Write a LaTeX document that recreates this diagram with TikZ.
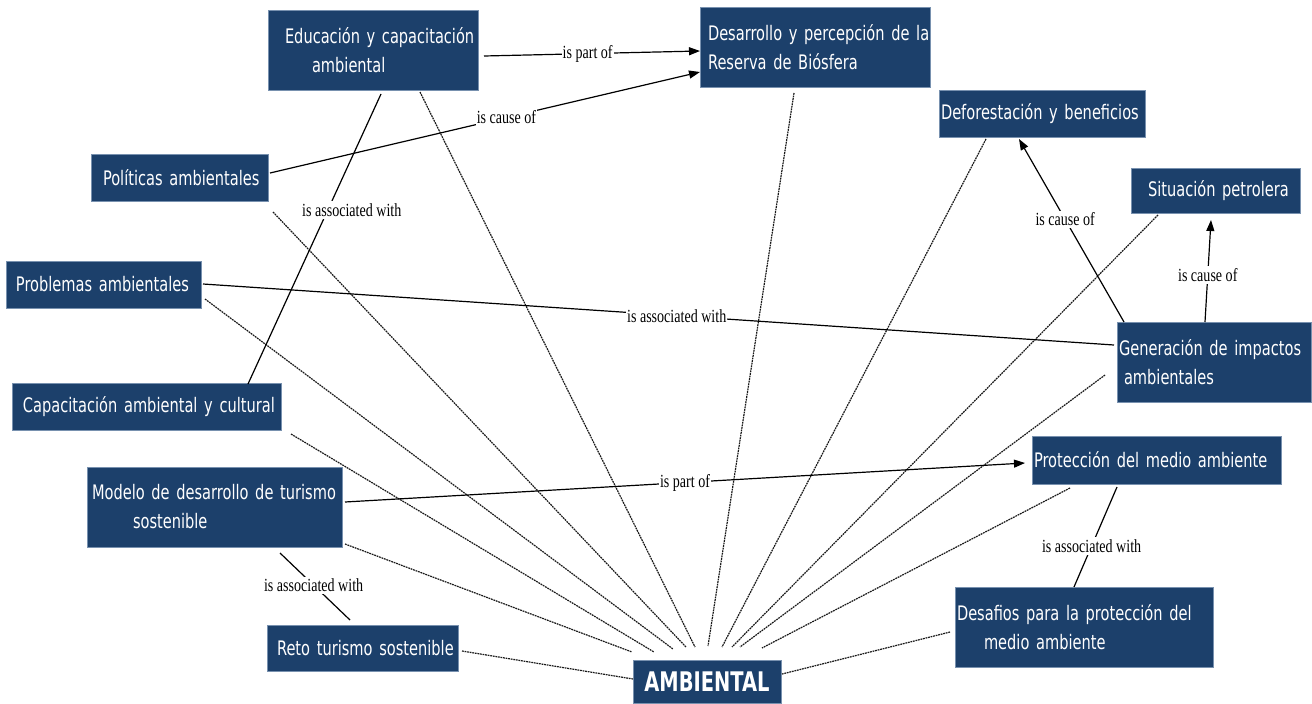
\documentclass[tikz,border=0pt]{standalone}
\usepackage{fontspec}
\usetikzlibrary{arrows.meta}
\newfontfamily\boxfont{DejaVu Sans}[FakeStretch=0.73]
\newfontfamily\ambfont{DejaVu Sans}[FakeStretch=0.72]
\newfontfamily\labfont{Liberation Serif}[FakeStretch=0.76]
\definecolor{boxc}{RGB}{28,64,107}
\definecolor{boxe}{RGB}{120,145,175}
\tikzset{
  box/.style={fill=boxc, draw=boxe, line width=0.5pt, text=white, anchor=north west,
    inner ysep=0pt, outer sep=0pt, align=left,
    font=\boxfont\fontsize{20}{29}\selectfont},
  bx/.style n args={4}{minimum width=#1, minimum height=#2, inner xsep=#3, text width=#4},
  lab/.style={fill=white, inner xsep=1pt, inner ysep=2pt, text=black,
    font=\labfont\fontsize{18.5}{20}\selectfont},
  sl/.style={line width=1.2pt, black},
  arr/.style={sl, -{Triangle[length=11pt,width=8pt]}},
  dl/.style={line width=1.2pt, black!90, dash pattern=on 1.8pt off 0.8pt}
}
\begin{document}
\begin{tikzpicture}[x=1pt,y=-1pt]
\useasboundingbox (0,0) rectangle (1312,704);
% boxes
\node[box, bx={210pt}{80pt}{17pt}{176pt}] (edu) at (268,10)
  {\mbox{Educación y capacitación}\\\hspace*{27pt}ambiental};
\node[box, bx={230pt}{80pt}{8pt}{214pt}] (des) at (700,7)
  {\mbox{Desarrollo y percepción de la}\\Reserva de Biósfera};
\node[box, bx={206pt}{47pt}{2pt}{202pt}] (def) at (939,90)
  {\mbox{Deforestación y beneficios}};
\node[box, bx={177pt}{47pt}{12pt}{153pt}] (pol) at (91,154)
  {\mbox{Políticas ambientales}};
\node[box, bx={169pt}{45pt}{17pt}{135pt}] (sit) at (1131,168)
  {\mbox{Situación petrolera}};
\node[box, bx={195pt}{47pt}{10pt}{175pt}] (prob) at (6,261)
  {\mbox{Problemas ambientales}};
\node[box, bx={194pt}{80pt}{2pt}{190pt}] (gen) at (1117,322)
  {\mbox{Generación de impactos}\\\hspace*{5pt}ambientales};
\node[box, bx={269pt}{47pt}{11pt}{247pt}] (cap) at (12,383)
  {\mbox{Capacitación ambiental y cultural}};
\node[box, bx={249pt}{48pt}{2pt}{245pt}] (pro) at (1032,436)
  {\mbox{Protección del medio ambiente}};
\node[box, bx={255pt}{80pt}{5pt}{245pt}] (mod) at (87,467)
  {\mbox{Modelo de desarrollo de turismo}\\\hspace*{41pt}sostenible};
\node[box, bx={258pt}{80pt}{2pt}{254pt}] (desaf) at (955,587)
  {\mbox{Desafios para la protección del}\\\hspace*{27pt}medio ambiente};
\node[box, bx={191pt}{46pt}{10pt}{171pt}] (reto) at (267,625)
  {\mbox{Reto turismo sostenible}};
\node[box, minimum width=148pt, minimum height=43pt, align=center,
  font=\ambfont\bfseries\fontsize{27}{29}\selectfont] (amb) at (633,660) {AMBIENTAL};
% dotted connectors to AMBIENTAL
\draw[dl] ([xshift=47pt,yshift=-2pt]edu.south) -- ([xshift=-12pt,yshift=13pt]amb.north);
\draw[dl] ([xshift=-21pt,yshift=-6pt]des.south) -- ([xshift=1pt,yshift=14pt]amb.north);
\draw[dl] ([xshift=-56pt,yshift=-2pt]def.south) -- ([xshift=15pt,yshift=13pt]amb.north);
\draw[dl] ([xshift=5pt,yshift=-11pt]pol.south east) -- ([xshift=-21pt,yshift=13pt]amb.north);
\draw[dl] ([xshift=4pt,yshift=-14.5pt]prob.east) -- ([xshift=-34pt,yshift=11pt]amb.north);
\draw[dl] ([xshift=10pt,yshift=-4pt]cap.south east) -- ([xshift=-53pt,yshift=8pt]amb.north);
\draw[dl] ([xshift=3pt,yshift=3pt]mod.south east) -- ([xshift=-1pt,yshift=8pt]amb.north west);
\draw[dl] ([xshift=4pt,yshift=-3pt]reto.east) -- ([yshift=2.5pt]amb.west);
\draw[dl] ([xshift=-57.5pt,yshift=-2pt]sit.south) -- ([xshift=25pt,yshift=13pt]amb.north);
\draw[dl] ([xshift=-12pt,yshift=-13pt]gen.west) -- ([xshift=33pt,yshift=13pt]amb.north);
\draw[dl] ([xshift=-86.5pt,yshift=-4pt]pro.south) -- ([xshift=55pt,yshift=12pt]amb.north);
\draw[dl] ([xshift=-5pt,yshift=-5pt]desaf.west) -- ([xshift=1pt,yshift=7.5pt]amb.east);
% labelled connectors
\draw[arr] ([xshift=6pt,yshift=-6pt]edu.east) -- node[lab,pos=.48]{is part of} ([yshift=-4pt]des.west);
\draw[arr] ([xshift=2pt,yshift=4.5pt]pol.east) -- node[lab,pos=.55]{is cause of} ([yshift=-25pt]des.west);
\draw[sl] ([xshift=8pt,yshift=-4pt]edu.south) -- node[lab,pos=.40,xshift=24pt]{is associated with} ([xshift=101.5pt,yshift=-1pt]cap.north);
\draw[sl] ([xshift=2pt,yshift=0.5pt]prob.east) -- node[lab,pos=.52,inner ysep=0pt]{is associated with} ([xshift=-3pt,yshift=17pt]gen.west);
\draw[arr] ([xshift=3pt,yshift=5pt]mod.east) -- node[lab,pos=.50,inner ysep=0pt]{is part of} ([xshift=-7pt,yshift=-3pt]pro.west);
\draw[sl] ([xshift=65.5pt,yshift=-6pt]mod.south) -- node[lab,pos=.48]{is associated with} ([xshift=-12.5pt,yshift=5pt]reto.north);
\draw[sl] ([xshift=-39.5pt,yshift=-3pt]pro.south) -- node[lab,pos=.59]{is associated with} ([xshift=-10pt]desaf.north);
\draw[arr] ([xshift=-90pt]gen.north) -- node[lab,pos=.56]{is cause of} ([xshift=-23pt,yshift=-2pt]def.south);
\draw[arr] ([xshift=-9pt]gen.north) -- node[lab,pos=.46]{is cause of} ([xshift=-4.5pt,yshift=-7pt]sit.south);
\end{tikzpicture}
\end{document}
